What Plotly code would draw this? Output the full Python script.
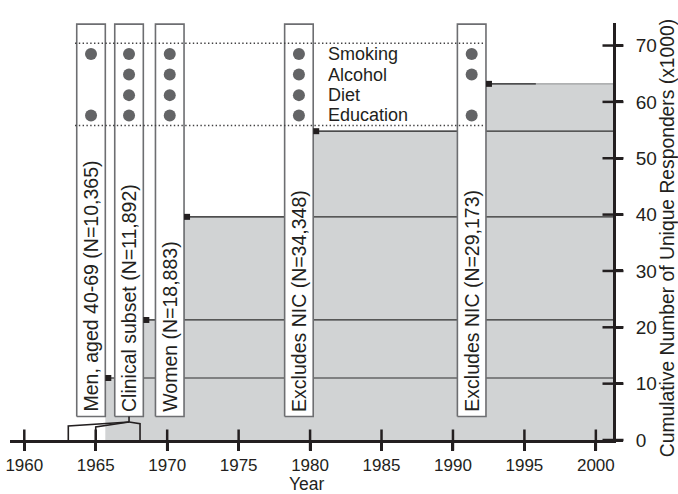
import plotly.graph_objects as go

# ---------------- data ----------------
step_years = [1965.67, 1968.33, 1971.18, 1980.22, 1992.31]      # start of each cohort step
cum_responders = [11.0, 21.3, 39.6, 54.8, 63.2]                  # cumulative unique responders (x1000)
cohort_labels = [
    "Men, aged 40-69 (N=10,365)",
    "Clinical subset (N=11,892)",
    "Women (N=18,883)",
    "Excludes NIC (N=34,348)",
    "Excludes NIC (N=29,173)",
]
variables = ["Smoking", "Alcohol", "Diet", "Education"]
measured = [
    [1, 0, 0, 1],
    [1, 1, 1, 1],
    [1, 1, 1, 1],
    [1, 1, 1, 1],
    [1, 1, 0, 1],
]
bracket_years = [1963.08, 1965.0, 1968.1]   # outer-left, inner-left, right legs of the bracket
extension_end = 1995.8                         # black segment end on the last step
x_ticks = [1960, 1965, 1970, 1975, 1980, 1985, 1990, 1995, 2000]
y_ticks = [0, 10, 20, 30, 40, 50, 60, 70]
x_title = "Year"
y_title = "Cumulative Number of Unique Responders (x1000)"

# ---------------- layout constants ----------------
X_MIN, X_MAX = 1959.0, 2001.2
Y_MAX = 74.0
BOX_W = 2.0
BOX_BOTTOM, BOX_TOP = 4.17, 73.8
ROW_Y = [68.5, 64.85, 61.2, 57.6]
BAND = [55.8, 70.4]
BRACKET_TOPS = [2.5, 2.3, 2.9]
APEX_Y = 3.2

FONT = "Liberation Sans, Arial, Helvetica, sans-serif"
INK = "#231f20"

fig = go.Figure()

# gray cumulative area
fig.add_trace(go.Scatter(
    x=step_years + [X_MAX], y=cum_responders + [cum_responders[-1]],
    mode="lines", line_shape="hv", fill="tozeroy",
    fillcolor="#d1d3d4", line=dict(color="#8a8b8d", width=1),
    hoverinfo="skip"))

# level lines
lx, ly = [], []
for i, (s, v) in enumerate(zip(step_years, cum_responders)):
    end = X_MAX if i < len(step_years) - 1 else extension_end
    lx += [s, end, None]
    ly += [v, v, None]
fig.add_trace(go.Scatter(x=lx, y=ly, mode="lines",
                         line=dict(color="#2e2e2e", width=1.2), hoverinfo="skip"))

# cohort boxes
bx, by = [], []
for s in step_years:
    bx += [s - BOX_W, s, s, s - BOX_W, s - BOX_W, None]
    by += [BOX_BOTTOM, BOX_BOTTOM, BOX_TOP, BOX_TOP, BOX_BOTTOM, None]
fig.add_trace(go.Scatter(x=bx, y=by, mode="lines", fill="toself",
                         fillcolor="white", line=dict(color="#6d6e71", width=1.6),
                         hoverinfo="skip"))

# dotted band lines
dx, dy = [], []
for b in BAND:
    dx += [step_years[0] - BOX_W - 0.12, step_years[-1] - 0.15, None]
    dy += [b, b, None]
fig.add_trace(go.Scatter(x=dx, y=dy, mode="lines",
                         line=dict(color="#414042", width=1.4, dash="1.4px,2.4px"),
                         hoverinfo="skip"))

# measurement dots
px, py = [], []
for s, row in zip(step_years, measured):
    for j, m in enumerate(row):
        if m:
            px.append(s - BOX_W / 2)
            py.append(ROW_Y[j])
fig.add_trace(go.Scatter(x=px, y=py, mode="markers",
                         marker=dict(size=12, color="#636466"), hoverinfo="skip"))

# step start markers
fig.add_trace(go.Scatter(x=[s + 0.21 for s in step_years], y=cum_responders,
                         mode="markers",
                         marker=dict(symbol="square", size=6, color=INK),
                         hoverinfo="skip"))

# bracket under clinical subset box
apex_x = step_years[1] - BOX_W / 2
kx, ky = [], []
for bxr, top in zip(bracket_years, BRACKET_TOPS):
    kx += [bxr, bxr, apex_x, None]
    ky += [0, top, APEX_Y, None]
kx += [apex_x, apex_x]
ky += [APEX_Y, BOX_BOTTOM]
fig.add_trace(go.Scatter(x=kx, y=ky, mode="lines",
                         line=dict(color=INK, width=1.6), hoverinfo="skip"))

# crossing tick marks
fig.add_trace(go.Scatter(x=x_ticks, y=[0] * len(x_ticks), mode="markers",
                         marker=dict(symbol="line-ns", size=15,
                                     line=dict(color=INK, width=2.5)),
                         cliponaxis=False, hoverinfo="skip"))
fig.add_trace(go.Scatter(x=[X_MAX] * len(y_ticks), y=y_ticks, mode="markers",
                         marker=dict(symbol="line-ew", size=15,
                                     line=dict(color=INK, width=2.5)),
                         cliponaxis=False, hoverinfo="skip"))

annotations = []
for s, lab in zip(step_years, cohort_labels):
    annotations.append(dict(x=s - BOX_W / 2, y=BOX_BOTTOM + 0.45, xref="x", yref="y",
                            text=lab, textangle=-90, showarrow=False,
                            xanchor="center", yanchor="bottom",
                            font=dict(family=FONT, size=19.5, color=INK)))
for j, v in enumerate(variables):
    annotations.append(dict(x=1981.1, y=ROW_Y[j], xref="x", yref="y",
                            text=v, showarrow=False, xanchor="left", yanchor="middle",
                            font=dict(family=FONT, size=18, color=INK)))
# axis titles
annotations.append(dict(x=1.0896, y=0.484, xref="paper", yref="paper",
                        text=y_title, textangle=-90, showarrow=False,
                        xanchor="center", yanchor="middle",
                        font=dict(family=FONT, size=19.3, color=INK)))
annotations.append(dict(x=0.4925, y=-0.106, xref="paper", yref="paper",
                        text=x_title, showarrow=False,
                        xanchor="center", yanchor="middle",
                        font=dict(family=FONT, size=17.5, color=INK)))

fig.update_layout(
    width=678, height=494,
    margin=dict(l=10, r=65, t=23, b=54, autoexpand=False),
    paper_bgcolor="white", plot_bgcolor="white",
    showlegend=False,
    font=dict(family=FONT, color=INK),
    annotations=annotations,
    xaxis=dict(range=[X_MIN, X_MAX], tickvals=x_ticks, showgrid=False, zeroline=False,
               automargin=False, ticklabeloverflow="allow",
               showline=True, linewidth=3, linecolor=INK,
               ticks="outside", ticklen=8, tickwidth=2.5, tickcolor=INK,
               ticklabelstandoff=0,
               tickfont=dict(size=17, color=INK)),
    yaxis=dict(range=[0, Y_MAX], tickvals=y_ticks, side="right", showgrid=False,
               zeroline=False, automargin=False, ticklabeloverflow="allow",
               showline=True, linewidth=3, linecolor=INK,
               ticks="outside", ticklen=7, tickwidth=2.5, tickcolor=INK,
               ticklabelstandoff=9,
               tickfont=dict(size=19, color=INK)),
)

# remove the browser's default 8px body margin so the figure fills the window exactly
fig.write_html("out.html",
               config={"displayModeBar": False},
               post_script="document.body.style.margin='0px';"
                           "document.body.style.overflow='hidden';")
